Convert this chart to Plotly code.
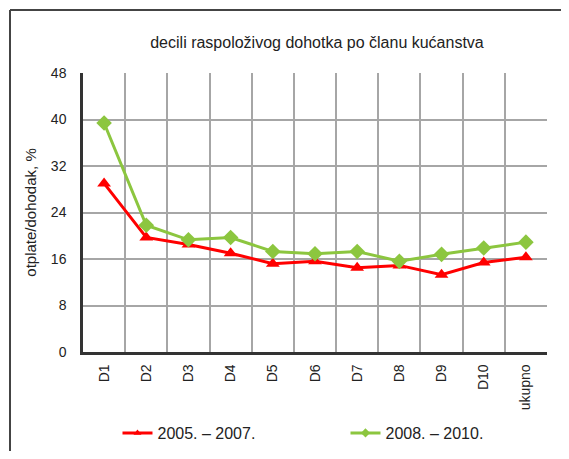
import plotly.graph_objects as go

# kategorije (decili)
categories = ["D1", "D2", "D3", "D4", "D5", "D6", "D7", "D8", "D9", "D10", "ukupno"]

# otplate/dohodak, %
vals_2005_2007 = [29.0, 19.7, 18.5, 17.0, 15.2, 15.6, 14.5, 14.9, 13.3, 15.4, 16.3]
vals_2008_2010 = [39.4, 21.8, 19.3, 19.7, 17.3, 16.9, 17.3, 15.6, 16.8, 17.9, 18.9]

series_names = ["2005. – 2007.", "2008. – 2010."]
series_colors = ["#FF0000", "#8CC63F"]
series_symbols = ["triangle-up", "diamond"]

x_pos = list(range(len(categories)))

# stranica ima 8px margine u pregledniku, pa je graf manji za 16px
W, H = 553, 443
L, R, T, B = 75, 14, 65, 99
pw, ph = W - L - R, H - T - B

fig = go.Figure()

for name, vals, col, sym in zip(series_names, [vals_2005_2007, vals_2008_2010],
                                series_colors, series_symbols):
    fig.add_trace(go.Scatter(
        x=x_pos, y=vals, name=name,
        mode="lines+markers",
        line=dict(color=col, width=3),
        marker=dict(symbol=sym, size=12, color=col),
        showlegend=False,
    ))

# legenda s malim oznakama (kao u originalu)
for name, col, sym in zip(series_names, series_colors, series_symbols):
    fig.add_trace(go.Scatter(
        x=[None], y=[None], name=name,
        mode="lines+markers",
        line=dict(color=col, width=3),
        marker=dict(symbol=sym, size=7, color=col),
        showlegend=True,
    ))

grid_col = "#A6A6A6"
txt_col = "#222"

fig.update_layout(
    width=W, height=H,
    margin=dict(l=L, r=R, t=T, b=B, autoexpand=False),
    plot_bgcolor="white", paper_bgcolor="white",
    font=dict(family="Liberation Sans, Arial, sans-serif", size=14, color=txt_col),
    title=dict(text="decili raspoloživog dohotka po članu kućanstva",
               x=(309 - L) / pw, xref="paper", xanchor="center",
               y=1 - 34 / H, yanchor="middle",
               font=dict(size=16, color=txt_col)),
    showlegend=True,
    legend=dict(orientation="h", xref="container", yref="container",
                x=0.198, xanchor="left", y=1 - 425 / H, yanchor="middle",
                itemsizing="trace", entrywidth=183, entrywidthmode="pixels",
                font=dict(size=16, color=txt_col)),
    xaxis=dict(
        range=[-0.5, len(categories) - 0.5],
        tickmode="array", tickvals=x_pos, ticktext=categories,
        tickangle=-90, showgrid=False, zeroline=False,
        showline=True, linecolor="#333", linewidth=2.5,
        ticks="", ticklabelstandoff=4,
        tickfont=dict(size=14),
        minor=dict(tick0=-0.5, dtick=1, showgrid=True,
                   gridcolor=grid_col, gridwidth=2, ticks=""),
    ),
    yaxis=dict(
        range=[0, 48], tickmode="linear", tick0=0, dtick=8,
        showgrid=True, gridcolor=grid_col, gridwidth=2, zeroline=False,
        showline=True, linecolor="#333", linewidth=2.5,
        ticks="", ticklabelstandoff=11,
        tickfont=dict(size=14),
        title=dict(text="otplate/dohodak, %", standoff=11,
                   font=dict(size=15, color=txt_col)),
    ),
)

# okvir oko cijelog grafa (lijevo i gore)
frame_x = (2 - L) / pw
frame_y = 1 + (T - 2) / ph
fig.add_shape(type="line", xref="paper", yref="paper",
              x0=frame_x, x1=frame_x, y0=-0.6, y1=frame_y,
              line=dict(color="#444", width=2), layer="below")
fig.add_shape(type="line", xref="paper", yref="paper",
              x0=frame_x, x1=1.3, y0=frame_y, y1=frame_y,
              line=dict(color="#444", width=2), layer="below")

fig.write_html("out.html")
